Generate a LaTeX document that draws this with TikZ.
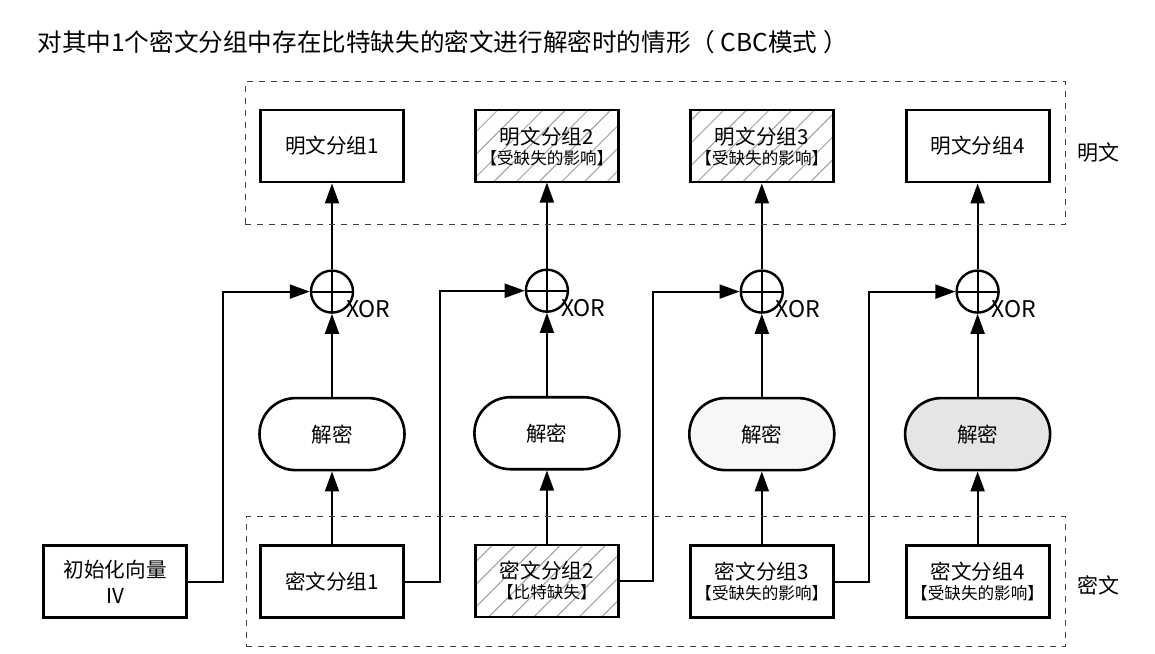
\documentclass[tikz,border=0pt]{standalone}
\usepackage{fontspec}
\setmainfont{Noto Sans CJK SC}
\usetikzlibrary{arrows.meta, positioning, fit, calc, patterns.meta}

\newcommand{\subnote}[1]{{\fontsize{8.3}{9}\selectfont #1}}

\begin{document}
\begin{tikzpicture}[
    x=0.5pt, y=-0.5pt,
    every node/.style={font=\fontsize{10.3}{12}\selectfont},
    box/.style={rectangle, draw, line width=1.4pt, minimum width=71.5pt, minimum height=36pt, align=center, inner sep=2pt},
    decbox/.style={rectangle, draw, line width=1.3pt, minimum width=72.5pt, minimum height=36pt, rounded corners=18pt, align=center},
    hatched/.style={pattern={Lines[angle=45, distance=8pt, line width=0.5pt]}, pattern color=gray!75},
    xor/.style={circle, draw, line width=1.2pt, minimum size=21pt, inner sep=0pt,
        path picture={\draw[line width=1pt] (path picture bounding box.north) -- (path picture bounding box.south)
            (path picture bounding box.west) -- (path picture bounding box.east);}},
    arrow/.style={-{Triangle[length=10pt, width=7pt]}, line width=1pt},
    zone/.style={draw, dashed, gray!50!black, line width=0.6pt, inner sep=0pt},
    label/.style={font=\fontsize{10.5}{12}\selectfont},
    xorlabel/.style={font=\fontsize{11.5}{12}\selectfont, anchor=west, inner sep=0pt},
    title/.style={font=\fontsize{12.3}{14}\selectfont}
]
\useasboundingbox (0,0) rectangle (1155,653);

% ============ TITLE ============
\node[title, anchor=west, inner sep=0pt] (title) at (37,42) {对其中1个密文分组中存在比特缺失的密文进行解密时的情形（ CBC模式 ）};

% ============ PLAINTEXT BLOCKS (TOP) ============
\node[box] (plain1) at (332,146) {明文分组1};
\node[box, hatched, right=35pt of plain1] (plain2) {明文分组2\\[-2pt]\subnote{【受缺失的影响】}};
\node[box, hatched, right=35pt of plain2] (plain3) {明文分组3\\[-2pt]\subnote{【受缺失的影响】}};
\node[box, right=35pt of plain3] (plain4) {明文分组4};

% XOR
\node[xor, below=43pt of plain1] (xor1) {};
\node[xor, below=43pt of plain2] (xor2) {};
\node[xor, below=43pt of plain3] (xor3) {};
\node[xor, below=43pt of plain4] (xor4) {};
\node[xorlabel] (xorlabel1) at ([shift={(-1pt,-1pt)}]xor1.south east) {XOR};
\node[xorlabel] (xorlabel2) at ([shift={(-1pt,-1pt)}]xor2.south east) {XOR};
\node[xorlabel] (xorlabel3) at ([shift={(-1pt,-1pt)}]xor3.south east) {XOR};
\node[xorlabel] (xorlabel4) at ([shift={(-1pt,-1pt)}]xor4.south east) {XOR};

% Decryption
\node[decbox, below=41.5pt of xor1] (dec1) {解密};
\node[decbox, below=41.5pt of xor2] (dec2) {解密};
\node[decbox, fill=gray!6, below=41.5pt of xor3] (dec3) {解密};
\node[decbox, fill=gray!20, below=41.5pt of xor4] (dec4) {解密};

% ============ CIPHERTEXT BLOCKS (BOTTOM) ============
\node[box, below=36.5pt of dec1] (cipher1) {密文分组1};
\node[box, hatched, below=36.5pt of dec2] (cipher2) {密文分组2\\[-2pt]\subnote{【比特缺失】}};
\node[box, below=36.5pt of dec3] (cipher3) {密文分组3\\[-2pt]\subnote{【受缺失的影响】}};
\node[box, below=36.5pt of dec4] (cipher4) {密文分组4\\[-2pt]\subnote{【受缺失的影响】}};

% Initial vector
\node[box, left=35.5pt of cipher1] (iv) {初始化向量\\[1pt]IV};

% Arrows
\draw[arrow] (cipher1) -- (dec1);
\draw[arrow] (cipher2) -- (dec2);
\draw[arrow] (cipher3) -- (dec3);
\draw[arrow] (cipher4) -- (dec4);
\draw[arrow] (dec1) -- (xor1);
\draw[arrow] (dec2) -- (xor2);
\draw[arrow] (dec3) -- (xor3);
\draw[arrow] (dec4) -- (xor4);
\draw[arrow] (xor1) -- (plain1);
\draw[arrow] (xor2) -- (plain2);
\draw[arrow] (xor3) -- (plain3);
\draw[arrow] (xor4) -- (plain4);
\draw[arrow] (iv.east) -- ++(17.5pt,0) |- (xor1.west);
\draw[arrow] (cipher1.east) -- ++(17.5pt,0) |- (xor2.west);
\draw[arrow] (cipher2.east) -- ++(16.5pt,0) |- (xor3.west);
\draw[arrow] (cipher3.east) -- ++(17pt,0) |- (xor4.west);

% ============ GROUPS ============
\node[zone, fit={($(plain1.north west)+(-7pt,13.5pt)$) ($(plain4.south east)+(7.5pt,-20.5pt)$)}] (plainzone) {};
\node[zone, fit={($(cipher1.north west)+(-6.5pt,14pt)$) ($(cipher4.south east)+(7.5pt,-13.5pt)$)}] (cipherzone) {};
\node[label, right=2pt of plainzone] (plainlabel) {明文};
\node[label, right=2pt of cipherzone, yshift=-2pt] (cipherlabel) {密文};

\end{tikzpicture}
\end{document}
